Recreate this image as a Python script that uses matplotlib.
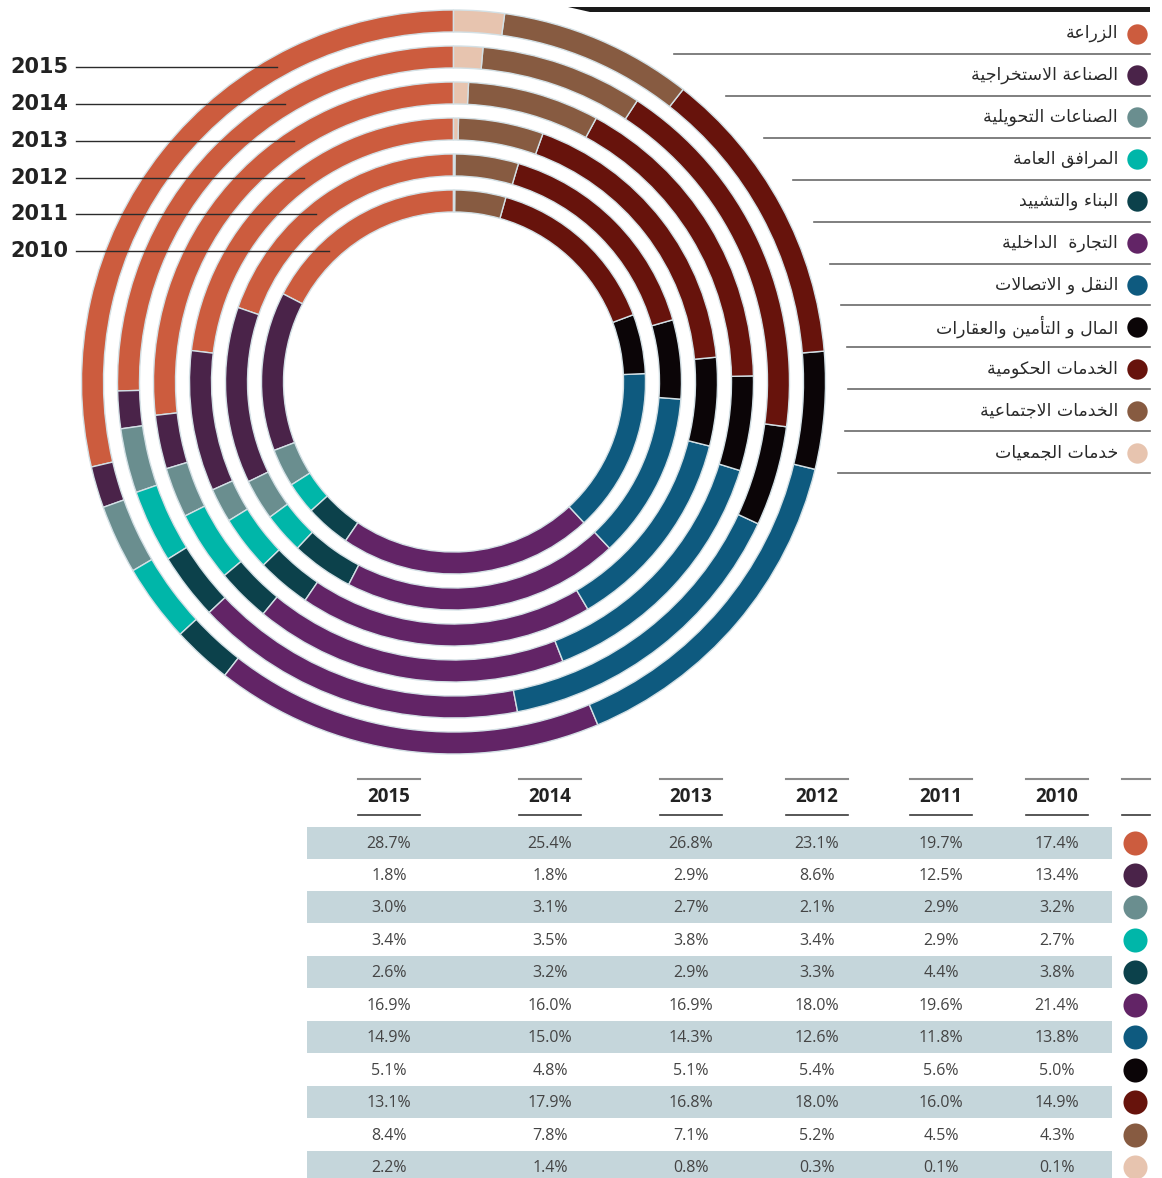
import matplotlib
matplotlib.use("Agg")
import matplotlib.pyplot as plt
import numpy as np

# ---------------- data ----------------
years = ["2015", "2014", "2013", "2012", "2011", "2010"]
sectors = ["الزراعة", "الصناعة الاستخراجية", "الصناعات التحويلية", "المرافق العامة",
           "البناء والتشييد", "التجارة  الداخلية", "النقل و الاتصالات",
           "المال و التأمين والعقارات", "الخدمات الحكومية", "الخدمات الاجتماعية",
           "خدمات الجمعيات"]
colors = ["#cc5c3e", "#4a2349", "#6a8e8f", "#00b6a9", "#0c414b", "#622466",
          "#0e5a7f", "#0b0507", "#67130c", "#875b41", "#e7c4af"]
v2015 = [28.7, 1.8, 3.0, 3.4, 2.6, 16.9, 14.9, 5.1, 13.1, 8.4, 2.2]
v2014 = [25.4, 1.8, 3.1, 3.5, 3.2, 16.0, 15.0, 4.8, 17.9, 7.8, 1.4]
v2013 = [26.8, 2.9, 2.7, 3.8, 2.9, 16.9, 14.3, 5.1, 16.8, 7.1, 0.8]
v2012 = [23.1, 8.6, 2.1, 3.4, 3.3, 18.0, 12.6, 5.4, 18.0, 5.2, 0.3]
v2011 = [19.7, 12.5, 2.9, 2.9, 4.4, 19.6, 11.8, 5.6, 16.0, 4.5, 0.1]
v2010 = [17.4, 13.4, 3.2, 2.7, 3.8, 21.4, 13.8, 5.0, 14.9, 4.3, 0.1]
values = [v2015, v2014, v2013, v2012, v2011, v2010]

# ---------------- minimal Arabic shaping (presentation forms + RTL) ----------------
FORMS = {
    '\u0621': ('\uFE80', None, None, None),
    '\u0623': ('\uFE83', '\uFE84', None, None),
    '\u0627': ('\uFE8D', '\uFE8E', None, None),
    '\u0628': ('\uFE8F', '\uFE90', '\uFE91', '\uFE92'),
    '\u0629': ('\uFE93', '\uFE94', None, None),
    '\u062A': ('\uFE95', '\uFE96', '\uFE97', '\uFE98'),
    '\u062C': ('\uFE9D', '\uFE9E', '\uFE9F', '\uFEA0'),
    '\u062D': ('\uFEA1', '\uFEA2', '\uFEA3', '\uFEA4'),
    '\u062E': ('\uFEA5', '\uFEA6', '\uFEA7', '\uFEA8'),
    '\u062F': ('\uFEA9', '\uFEAA', None, None),
    '\u0631': ('\uFEAD', '\uFEAE', None, None),
    '\u0632': ('\uFEAF', '\uFEB0', None, None),
    '\u0633': ('\uFEB1', '\uFEB2', '\uFEB3', '\uFEB4'),
    '\u0634': ('\uFEB5', '\uFEB6', '\uFEB7', '\uFEB8'),
    '\u0635': ('\uFEB9', '\uFEBA', '\uFEBB', '\uFEBC'),
    '\u0639': ('\uFEC9', '\uFECA', '\uFECB', '\uFECC'),
    '\u0641': ('\uFED1', '\uFED2', '\uFED3', '\uFED4'),
    '\u0642': ('\uFED5', '\uFED6', '\uFED7', '\uFED8'),
    '\u0643': ('\uFED9', '\uFEDA', '\uFEDB', '\uFEDC'),
    '\u0644': ('\uFEDD', '\uFEDE', '\uFEDF', '\uFEE0'),
    '\u0645': ('\uFEE1', '\uFEE2', '\uFEE3', '\uFEE4'),
    '\u0646': ('\uFEE5', '\uFEE6', '\uFEE7', '\uFEE8'),
    '\u0647': ('\uFEE9', '\uFEEA', '\uFEEB', '\uFEEC'),
    '\u0648': ('\uFEED', '\uFEEE', None, None),
    '\u064A': ('\uFEF1', '\uFEF2', '\uFEF3', '\uFEF4'),
}
LAMALEF = {'\u0627': ('\uFEFB', '\uFEFC', None, None),
           '\u0623': ('\uFEF7', '\uFEF8', None, None)}


def shape(s):
    toks = []
    i = 0
    while i < len(s):
        c = s[i]
        if c == '\u0644' and i + 1 < len(s) and s[i + 1] in LAMALEF:
            toks.append(LAMALEF[s[i + 1]])
            i += 2
        else:
            toks.append(FORMS.get(c, (c, None, None, None)))
            i += 1
    out = []
    for j, t in enumerate(toks):
        prev = toks[j - 1] if j > 0 else None
        nxt = toks[j + 1] if j + 1 < len(toks) else None
        jp = prev is not None and prev[2] is not None and t[1] is not None
        jn = nxt is not None and t[2] is not None and nxt[1] is not None
        if jp and jn:
            f = t[3]
        elif jp:
            f = t[1]
        elif jn:
            f = t[2]
        else:
            f = t[0]
        out.append(f)
    return ''.join(reversed(out))


# ---------------- figure ----------------
W, H = 1162, 1178
fig = plt.figure(figsize=(W / 100, H / 100), dpi=100)
fig.patch.set_facecolor("white")

cx, cy = 453.5, 382.0
R_out = 372.0
step = 36.0
ring_w = 22.0
half = 400.0

pax = fig.add_axes([(cx - half) / W, (H - cy - half) / H, 2 * half / W, 2 * half / H])
for k, vals in enumerate(values):
    r = R_out - k * step
    pax.pie(vals, colors=colors, radius=r, startangle=90, counterclock=True,
            wedgeprops=dict(width=ring_w, edgecolor="#d3e0e5", linewidth=1.0))
pax.set_aspect("auto")
pax.set_xlim(-half, half)
pax.set_ylim(-half, half)
pax.axis("off")

ax = fig.add_axes([0, 0, 1, 1])
ax.set_xlim(0, W)
ax.set_ylim(H, 0)
ax.axis("off")

# year labels with leader lines
year_y = [67, 104, 141, 178, 214, 251]
for k, (yr, yy) in enumerate(zip(years, year_y)):
    rmid = R_out - k * step - ring_w / 2
    xe = cx - np.sqrt(rmid ** 2 - (cy - yy) ** 2)
    ax.plot([76, xe], [yy, yy], color="#2b2b2b", lw=1.0, zorder=5)
    ax.text(68, yy, yr, ha="right", va="center", fontsize=15,
            fontweight="bold", family="DejaVu Sans", color="#222222")

# top heavy rule
ax.fill([568, 1150, 1150, 590], [6.5, 6.5, 11.5, 11.5], color="#1a1a1a", lw=0)

# legend
leg_y0, leg_dy = 33.5, 41.9
for i, (name, c) in enumerate(zip(sectors, colors)):
    yy = leg_y0 + i * leg_dy
    ax.scatter([1137], [yy], s=215, color=c, lw=0, zorder=5)
    ax.text(1118, yy, shape(name), ha="right", va="center", fontsize=12.5,
            family="DejaVu Sans", color="#2a2a2a")
    ly = yy + 20.5
    xs = cx + np.sqrt(395.0 ** 2 - (ly - cy) ** 2)
    ax.plot([xs, 1150], [ly, ly], color="#6a6a6a", lw=1.2)

# table
col_x = [389, 550, 691, 817, 941, 1057]
head_y = 797
for yr, xx in zip(years, col_x):
    ax.plot([xx - 31, xx + 31], [779, 779], color="#8a8a8a", lw=1.5)
    ax.plot([xx - 31, xx + 31], [815, 815], color="#3a3a3a", lw=1.2)
    ax.text(xx, head_y, yr, ha="center", va="center", fontsize=13.5,
            fontweight="bold", family="Open Sans", color="#222222")
ax.plot([1122, 1150], [779, 779], color="#8a8a8a", lw=1.5)
ax.plot([1122, 1150], [815, 815], color="#3a3a3a", lw=1.2)

row_y0, row_dy = 842.5, 32.45
rows_y = [row_y0 + i * row_dy for i in range(len(sectors))]
shaded = [y for i, y in enumerate(rows_y) if i % 2 == 0]
ax.barh(shaded, [805] * len(shaded), left=307, height=32, color="#c5d6db", lw=0, zorder=1)
for i, (yy, c) in enumerate(zip(rows_y, colors)):
    for vals, xx in zip(values, col_x):
        ax.text(xx, yy + 1, f"{vals[i]:.1f}%", ha="center", va="center",
                fontsize=11.5, family="Open Sans", color="#444444", zorder=3)
    ax.scatter([1135], [yy], s=300, color=c, lw=0, zorder=5)

fig.savefig("out.png", dpi=100, facecolor="white")
